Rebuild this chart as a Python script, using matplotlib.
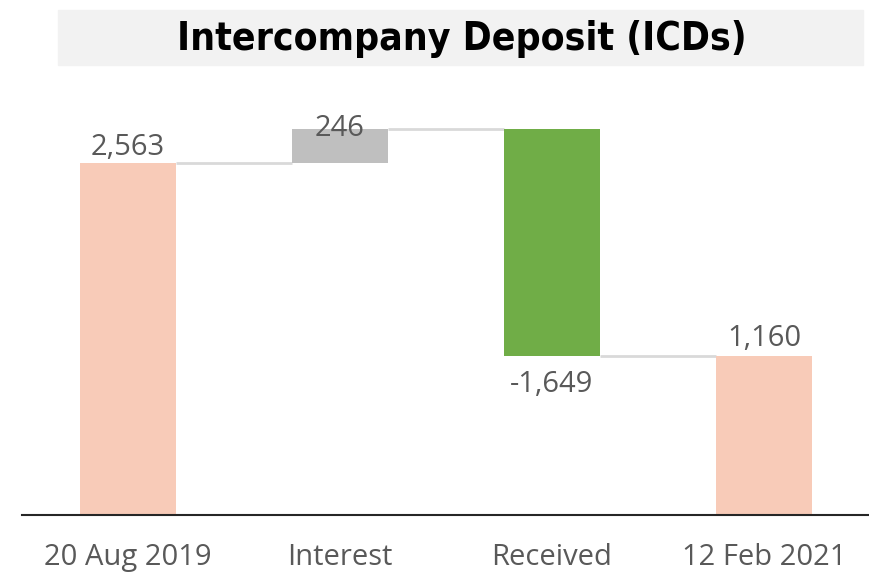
import matplotlib.pyplot as plt
from matplotlib.patches import Rectangle

categories = ["20 Aug 2019", "Interest", "Received", "12 Feb 2021"]
values = [2563, 246, -1649, 1160]
kinds = ["total", "delta", "delta", "total"]
colors = ["#f8cbb8", "#bfbfbf", "#70ad47", "#f8cbb8"]
# label baseline offsets (points) from the bar edge, as Excel placed them
label_offsets = [6, -4.5, -26, 7]

label_color = "#595959"
label_font = ["Open Sans", "DejaVu Sans"]

# bottoms / tops of each waterfall step
bottoms, tops, levels = [], [], []
running = 0
for v, k in zip(values, kinds):
    start = 0 if k == "total" else running
    running = v if k == "total" else running + v
    bottoms.append(min(start, running))
    tops.append(max(start, running))
    levels.append(running)

fig = plt.figure(figsize=(8.7, 5.75), dpi=100)
ax = fig.add_axes([22 / 870, 60 / 575, 848 / 870, 425.6 / 575])

x = list(range(len(categories)))
width = 0.45
heights = [t - b for t, b in zip(tops, bottoms)]
ax.bar(x, heights, bottom=bottoms, width=width, color=colors, zorder=2)

# connectors
for i in range(len(x) - 1):
    ax.plot([x[i] + width / 2, x[i + 1] - width / 2], [levels[i], levels[i]],
            color="#d9d9d9", lw=2, zorder=1, solid_capstyle="butt")

# value labels
for i, v in enumerate(values):
    anchor = tops[i] if v >= 0 else bottoms[i]
    ax.annotate(f"{v:,}", (x[i], anchor), xytext=(0, label_offsets[i]),
                textcoords="offset points", ha="center", va="baseline",
                fontsize=21, color=label_color, family=label_font, zorder=3)

ax.set_xlim(-0.5, 3.5)
ax.set_ylim(0, 3100)
ax.set_xticks(x)
ax.set_xticklabels(categories, fontsize=21, color=label_color, family=label_font)
ax.tick_params(axis="x", length=0, pad=20)
ax.set_yticks([])
for side in ["top", "right", "left"]:
    ax.spines[side].set_visible(False)
ax.spines["bottom"].set_color("#262626")
ax.spines["bottom"].set_linewidth(1.5)

# title band
fig.patches.append(Rectangle((58 / 870, 1 - 65 / 575), 805 / 870, 55 / 575,
                             transform=fig.transFigure, color="#f2f2f2", zorder=0))
fig.text(462 / 870, 1 - 50 / 575, "Intercompany Deposit (ICDs)", ha="center", va="baseline",
         fontsize=28, fontweight="bold", fontstretch="condensed", color="black",
         family=["DejaVu Sans", "Liberation Sans"])

fig.savefig("out.png", dpi=100)
